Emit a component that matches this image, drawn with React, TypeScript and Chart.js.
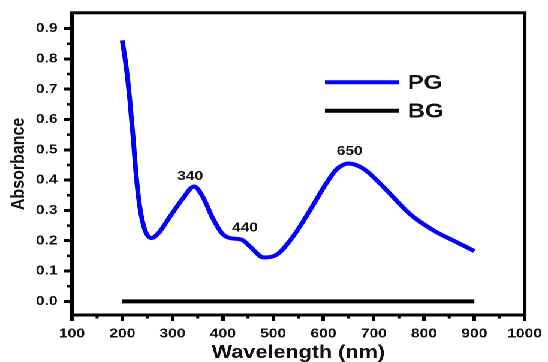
import React, { useEffect, useRef } from "react";
import { Chart, registerables } from "chart.js";

Chart.register(...registerables);

// ---- data ----
const wavelengths = [200, 208, 215, 222, 228, 235, 245, 258, 272, 295, 320, 343, 360, 380, 398, 414, 438, 454, 481, 507, 540, 573, 607, 627, 650, 680, 720, 772, 820, 865, 900];
const pgValues = [0.861, 0.771, 0.664, 0.532, 0.41, 0.31, 0.236, 0.209, 0.225, 0.28, 0.338, 0.379, 0.345, 0.274, 0.225, 0.209, 0.203, 0.181, 0.145, 0.154, 0.215, 0.3, 0.393, 0.437, 0.455, 0.437, 0.376, 0.288, 0.233, 0.195, 0.166];
const bgWavelengths = [200, 900];
const bgValues = [0, 0];

const xTicks = [100, 200, 300, 400, 500, 600, 700, 800, 900, 1000];
const xMinorTicks = [150, 250, 350, 450, 550, 650, 750, 850, 950];
const yTicks = [0, 0.1, 0.2, 0.3, 0.4, 0.5, 0.6, 0.7, 0.8, 0.9];
const yMinorTicks = [0.05, 0.15, 0.25, 0.35, 0.45, 0.55, 0.65, 0.75, 0.85];

const peakLabels = ["340", "440", "650"];
const peakLabelX = [335, 444, 652];
const peakLabelY = [0.412, 0.243, 0.494];

const seriesLabels = ["PG", "BG"];
const seriesColors = ["rgb(0,0,255)", "#000000"];

const FONT = '"Liberation Sans", Arial, sans-serif';
const INNER_W = 457;
const STRETCH = 548 / INNER_W;

const framePlugin = {
  id: "frameAndExtras",
  afterDraw(chart: any) {
    const { ctx, chartArea, scales } = chart;
    const xs = scales.x;
    const ys = scales.y;
    ctx.save();
    // frame
    ctx.strokeStyle = "#000";
    ctx.lineWidth = 3;
    ctx.strokeRect(chartArea.left, chartArea.top, chartArea.right - chartArea.left, chartArea.bottom - chartArea.top);
    // ticks (major + minor)
    ctx.lineWidth = 2.5;
    ctx.beginPath();
    ys.ticks.forEach((t: any) => {
      const py = ys.getPixelForValue(t.value);
      ctx.moveTo(chartArea.left - 7, py);
      ctx.lineTo(chartArea.left, py);
    });
    xs.ticks.forEach((t: any) => {
      const px = xs.getPixelForValue(t.value);
      ctx.moveTo(px, chartArea.bottom);
      ctx.lineTo(px, chartArea.bottom + 6);
    });
    yMinorTicks.forEach((v) => {
      const py = ys.getPixelForValue(v);
      ctx.moveTo(chartArea.left - 4, py);
      ctx.lineTo(chartArea.left, py);
    });
    xMinorTicks.forEach((v) => {
      const px = xs.getPixelForValue(v);
      ctx.moveTo(px, chartArea.bottom);
      ctx.lineTo(px, chartArea.bottom + 3.5);
    });
    ctx.stroke();
    // peak labels
    ctx.fillStyle = "#111";
    ctx.font = `bold 13px ${FONT}`;
    ctx.textAlign = "center";
    ctx.textBaseline = "middle";
    peakLabels.forEach((t, i) => {
      ctx.fillText(t, xs.getPixelForValue(peakLabelX[i]), ys.getPixelForValue(peakLabelY[i]));
    });
    // legend
    const lx0 = chartArea.left + 211;
    const lx1 = chartArea.left + 273;
    const tx = chartArea.left + 280;
    const row0 = chartArea.top + 69.5;
    const rowGap = 28.5;
    ctx.textAlign = "left";
    ctx.font = `bold 20px ${FONT}`;
    seriesLabels.forEach((lab, i) => {
      const y = row0 + i * rowGap;
      ctx.strokeStyle = seriesColors[i];
      ctx.lineWidth = 4;
      ctx.beginPath();
      ctx.moveTo(lx0, y);
      ctx.lineTo(lx1, y);
      ctx.stroke();
      ctx.fillStyle = "#111";
      ctx.fillText(lab, tx, y + 1);
    });
    ctx.restore();
  },
};

export default function App() {
  const canvasRef = useRef<HTMLCanvasElement | null>(null);

  useEffect(() => {
    if (!canvasRef.current) return;
    const chart = new Chart(canvasRef.current, {
      type: "line",
      data: {
        datasets: [
          {
            label: seriesLabels[0],
            data: wavelengths.map((w, i) => ({ x: w, y: pgValues[i] })),
            borderColor: seriesColors[0],
            borderWidth: 4,
            pointRadius: 0,
            cubicInterpolationMode: "monotone",
            fill: false,
          },
          {
            label: seriesLabels[1],
            data: bgWavelengths.map((w, i) => ({ x: w, y: bgValues[i] })),
            borderColor: seriesColors[1],
            borderWidth: 4,
            pointRadius: 0,
            fill: false,
          },
        ],
      },
      options: {
        animation: false,
        responsive: true,
        maintainAspectRatio: false,
        devicePixelRatio: 2,
        layout: { padding: { top: 12.5, right: 19, left: 0, bottom: 0 } },
        plugins: { legend: { display: false }, tooltip: { enabled: false } },
        scales: {
          x: {
            type: "linear",
            min: 100,
            max: 1000,
            afterBuildTicks: (s: any) => {
              s.ticks = xTicks.map((v) => ({ value: v }));
            },
            afterFit: (s: any) => {
              s.height = 47;
            },
            grid: { display: true, drawOnChartArea: false, drawTicks: true, tickLength: 6, tickWidth: 3, tickColor: "#000", color: "#000" },
            border: { display: false },
            ticks: {
              color: "#111",
              padding: 5,
              maxRotation: 0,
              autoSkip: false,
              font: { family: FONT, size: 13, weight: "bold" },
              callback: (v: any) => String(v),
            },
            title: {
              display: true,
              text: "Wavelength (nm)",
              color: "#111",
              padding: 0,
              font: { family: FONT, size: 18, weight: "bold", lineHeight: 1 },
            },
          },
          y: {
            type: "linear",
            min: -0.045,
            max: 0.952,
            afterBuildTicks: (s: any) => {
              s.ticks = yTicks.map((v) => ({ value: v }));
            },
            afterFit: (s: any) => {
              s.width = 60;
            },
            grid: { display: true, drawOnChartArea: false, drawTicks: true, tickLength: 7, tickWidth: 3, tickColor: "#000", color: "#000" },
            border: { display: false },
            ticks: {
              color: "#111",
              padding: 5,
              autoSkip: false,
              font: { family: FONT, size: 13, weight: "bold" },
              callback: (v: any) => Number(v).toFixed(1),
            },
            title: {
              display: true,
              text: "Absorbance",
              color: "#111",
              padding: { top: 6, bottom: 0 },
              font: { family: FONT, size: 16, weight: "bold" },
            },
          },
        },
      },
      plugins: [framePlugin],
    } as any);
    return () => chart.destroy();
  }, []);

  return (
    <div
      style={{
        position: "absolute",
        left: 0,
        top: 0,
        width: INNER_W,
        height: 362,
        transform: `scaleX(${STRETCH})`,
        transformOrigin: "0 0",
        background: "#fff",
      }}
    >
      <canvas ref={canvasRef} />
    </div>
  );
}
